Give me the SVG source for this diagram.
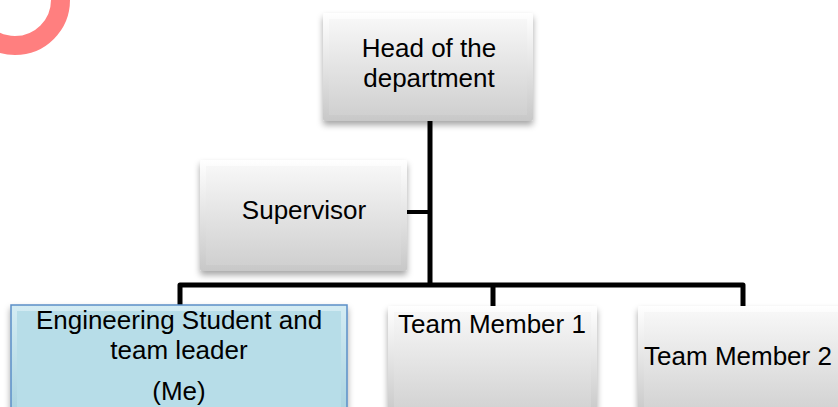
<svg xmlns="http://www.w3.org/2000/svg" width="838" height="407" viewBox="0 0 838 407">
  <style>
    .lbl { font-family: "Liberation Sans", Arial, sans-serif; font-size: 26px; fill: #000; text-anchor: middle; }
    .conn { fill: none; stroke: #000; stroke-width: 5; stroke-linejoin: round; }
    .box { fill: url(#gOuter); filter: url(#shadow); }
    .inner { fill: url(#gInner); }
    .bbox { fill: url(#bOuter); stroke: #5B8FC7; stroke-width: 1.5; filter: url(#shadow); }
    .binner { fill: #B7DDE8; }
  </style>
  <defs>
    <linearGradient id="gOuter" x1="0" y1="0" x2="0" y2="1">
      <stop offset="0" stop-color="#FFFFFF"/>
      <stop offset="1" stop-color="#C8C8C8"/>
    </linearGradient>
    <linearGradient id="gInner" x1="0" y1="0" x2="0" y2="1">
      <stop offset="0" stop-color="#F7F7F7"/>
      <stop offset="1" stop-color="#D0D0D0"/>
    </linearGradient>
    <linearGradient id="bOuter" x1="0" y1="0" x2="0" y2="1">
      <stop offset="0" stop-color="#D4ECF3"/>
      <stop offset="1" stop-color="#A9D3E0"/>
    </linearGradient>
    <filter id="shadow" x="-10%" y="-10%" width="120%" height="130%">
      <feDropShadow dx="0" dy="4" stdDeviation="3" flood-color="#000" flood-opacity="0.35"/>
    </filter>
  </defs>

  <circle cx="15" cy="0" r="45.5" fill="none" stroke="#FF7F7F" stroke-width="19"/>

  <g id="connectors">
    <path class="conn" d="M430,118 V285"/>
    <path class="conn" d="M406,212 H430" style="stroke-width:4"/>
    <path class="conn" d="M180,307 V285 H743 V307"/>
    <path class="conn" d="M493,285 V307"/>
  </g>

  <g id="head">
    <rect class="box" x="323" y="13" width="210" height="108" rx="2"/>
    <rect class="inner" x="329" y="19" width="198" height="96"/>
    <text class="lbl" x="429" y="57">Head of the</text>
    <text class="lbl" x="429" y="87">department</text>
  </g>

  <g id="supervisor">
    <rect class="box" x="200" y="160" width="207" height="111" rx="2"/>
    <rect class="inner" x="206" y="166" width="195" height="99"/>
    <text class="lbl" x="304" y="219">Supervisor</text>
  </g>

  <g id="student">
    <rect class="bbox" x="11" y="305" width="336" height="110"/>
    <rect class="binner" x="17" y="311" width="324" height="104"/>
    <text class="lbl" x="179" y="329">Engineering Student and</text>
    <text class="lbl" x="179" y="359">team leader</text>
    <text class="lbl" x="179" y="400">(Me)</text>
  </g>

  <g id="member1">
    <rect class="box" x="388" y="306" width="209" height="110" rx="2"/>
    <rect class="inner" x="394" y="312" width="197" height="104"/>
    <text class="lbl" x="492" y="333">Team Member 1</text>
  </g>

  <g id="member2">
    <rect class="box" x="638" y="306" width="210" height="110" rx="2"/>
    <rect class="inner" x="644" y="312" width="198" height="104"/>
    <text class="lbl" x="738" y="365">Team Member 2</text>
  </g>
</svg>
